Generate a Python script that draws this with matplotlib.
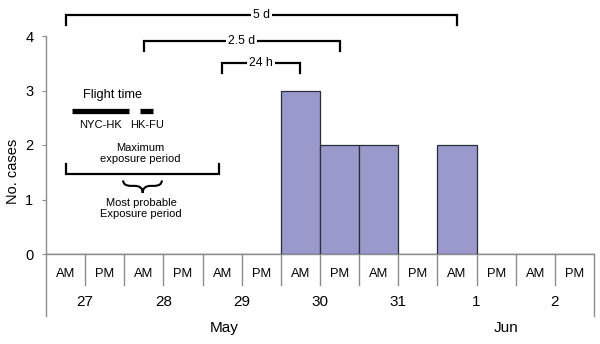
import matplotlib
matplotlib.use("Agg")
import matplotlib.pyplot as plt
import matplotlib.transforms as mtransforms
from matplotlib.path import Path
from matplotlib.patches import PathPatch

plt.rcParams['font.family'] = ['Liberation Sans', 'DejaVu Sans']

# half-day slots, 27 May AM .. 2 Jun PM
halves = ['AM', 'PM'] * 7
days = ['27', '28', '29', '30', '31', '1', '2']
months = ['May', 'Jun']
month_pos = [4.55, 11.75]
cases = [0, 0, 0, 0, 0, 0, 3, 2, 2, 0, 2, 0, 0, 0]

fig = plt.figure(figsize=(6.0, 3.44), dpi=100)
ax = fig.add_axes([46 / 600, 90 / 344, 548 / 600, 218 / 344])

x = [i + 0.5 for i in range(len(cases))]
ax.bar(x, cases, width=1.0, color='#9999cc', edgecolor='#2b2b3a', linewidth=0.9, zorder=3)

ax.set_xlim(0, len(halves))
ax.set_ylim(0, 4)
ax.set_yticks([0, 1, 2, 3, 4])
ax.tick_params(axis='y', labelsize=10.5, length=3, color='#8c8c8c', pad=6)
ax.set_xticks([])
for s in ['top', 'right']:
    ax.spines[s].set_visible(False)
for s in ['left', 'bottom']:
    ax.spines[s].set_color('#8c8c8c')
    ax.spines[s].set_linewidth(1.0)

fig.text(13 / 600, 1 - 171 / 344, 'No. cases', rotation=90, ha='center', va='center', fontsize=10.5)

# multi-level category axis
tr = mtransforms.blended_transform_factory(ax.transData, ax.transAxes)
gray = '#8c8c8c'
for i in range(1, len(halves)):
    ax.plot([i, i], [0, -0.142], transform=tr, color=gray, lw=1.0, clip_on=False)
for xe in [0, len(halves)]:
    ax.plot([xe, xe], [0, -0.284], transform=tr, color=gray, lw=1.0, clip_on=False)
for i, h in enumerate(halves):
    ax.text(i + 0.5, -0.092, h, transform=tr, ha='center', va='center', fontsize=9.3)
for j, d in enumerate(days):
    ax.text(2 * j + 1, -0.22, d, transform=tr, ha='center', va='center', fontsize=11)
for m, p in zip(months, month_pos):
    ax.text(p, -0.339, m, transform=tr, ha='center', va='center', fontsize=11)


def bracket(x0, x1, ytop, yend, label=None, lx=None):
    ax.plot([x0, x0, x1, x1], [yend, ytop, ytop, yend], color='black', lw=1.6,
            solid_joinstyle='miter', clip_on=False, zorder=4)
    if label:
        ax.text(lx if lx is not None else (x0 + x1) / 2, ytop, label, ha='center', va='center',
                fontsize=8.8, zorder=5,
                bbox=dict(facecolor='white', edgecolor='none', pad=1.5))


bracket(0.5, 10.5, 4.39, 4.2, '5 d', 5.5)
bracket(2.5, 7.5, 3.91, 3.72, '2.5 d', 5.0)
bracket(4.5, 6.5, 3.5, 3.32, '24 h', 5.5)

# flight times
ax.text(1.69, 2.92, 'Flight time', ha='center', va='center', fontsize=9.2)
ax.plot([0.66, 2.12], [2.62, 2.62], color='black', lw=3.8, solid_capstyle='butt')
ax.plot([2.4, 2.73], [2.62, 2.62], color='black', lw=3.8, solid_capstyle='butt')
ax.text(1.38, 2.37, 'NYC-HK', ha='center', va='center', fontsize=8)
ax.text(2.58, 2.37, 'HK-FU', ha='center', va='center', fontsize=8)

# exposure periods
ax.text(2.4, 1.84, 'Maximum\nexposure period', ha='center', va='center', fontsize=8,
        linespacing=1.15)
ax.plot([0.5, 0.5, 4.42, 4.42], [1.65, 1.47, 1.47, 1.65], color='black', lw=1.6,
        solid_joinstyle='miter')

x0, x1, xc = 1.97, 2.96, 2.47
yt, ym, yb = 1.35, 1.25, 1.12
w = 0.2
verts = [(x0, yt), (x0, ym), (x0 + w, ym),
         (xc - w, ym), (xc, ym), (xc, yb),
         (xc, ym), (xc + w, ym),
         (x1 - w, ym), (x1, ym), (x1, yt)]
codes = [Path.MOVETO, Path.CURVE3, Path.CURVE3,
         Path.LINETO, Path.CURVE3, Path.CURVE3,
         Path.CURVE3, Path.CURVE3,
         Path.LINETO, Path.CURVE3, Path.CURVE3]
ax.add_patch(PathPatch(Path(verts, codes), facecolor='none', edgecolor='black', lw=1.5))

ax.text(2.43, 0.83, 'Most probable\nExposure period', ha='center', va='center', fontsize=8,
        linespacing=1.15)

fig.savefig('out.png', dpi=100)
